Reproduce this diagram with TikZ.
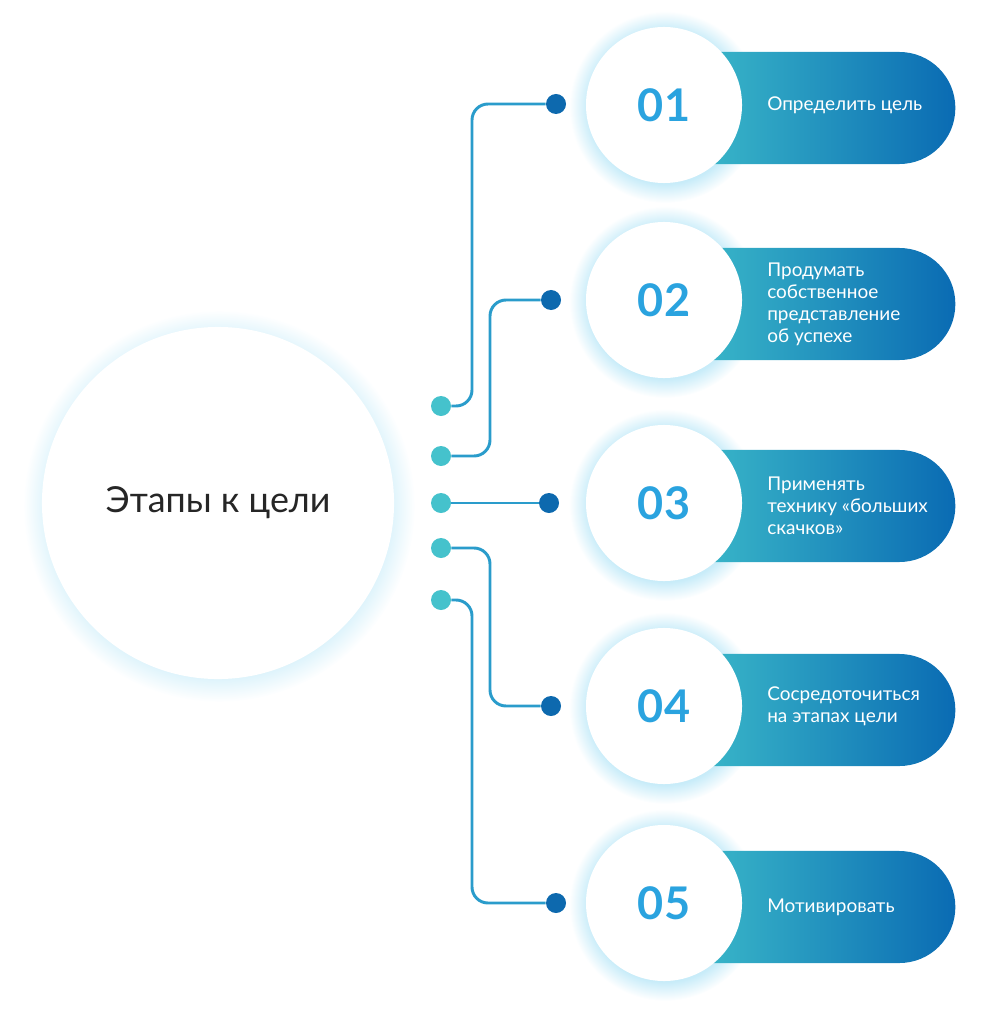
\documentclass[tikz,border=0pt]{standalone}
\usepackage{fontspec}
\setmainfont{Lato}
\usetikzlibrary{positioning, shapes.misc}
\definecolor{tealc}{HTML}{3BB9C9}
\definecolor{bluec}{HTML}{0A6BB3}
\definecolor{numc}{HTML}{2AA3DF}
\definecolor{linec}{HTML}{2A9CCB}
\definecolor{ldot}{HTML}{45C2CC}
\definecolor{rdot}{HTML}{0D69AE}
\definecolor{glowc}{HTML}{C8ECF9}
\pgfdeclareradialshading{glow}{\pgfpoint{0cm}{0cm}}{color(0bp)=(glowc); color(20bp)=(glowc); color(25bp)=(white); color(50bp)=(white)}
\tikzset{
	x=0.025cm, y=-0.025cm, % one unit is one pixel of the reference, y runs down
	goal/.style={circle, fill=white, minimum size=8.8cm, font=\fontsize{25.5}{30}\selectfont, text=black!85}, % the big circle
	numcirc/.style={circle, fill=white, minimum size=3.9cm, font=\fontsize{32}{36}\selectfont\bfseries, text=numc}, % numbered circles
	pill/.style={rounded rectangle, rounded rectangle west arc=none, minimum width=6.75cm, minimum height=2.8cm, left color=tealc, right color=bluec}, % coloured bars
	steptext/.style={anchor=west, align=left, text=white, font=\fontsize{13.5}{15.6}\selectfont, inner sep=0pt}, % text on the bars
	dotl/.style={circle, fill=ldot, minimum size=0.5cm, inner sep=0pt}, % dots at the big circle
	dotr/.style={circle, fill=rdot, minimum size=0.5cm, inner sep=0pt}, % dots at the numbers
	link/.style={draw=linec, line width=2.1pt, rounded corners=0.4cm}, % connectors
}

\begin{document}
\begin{tikzpicture}
	\useasboundingbox (0,0) rectangle (996,1024);

	% glow behind the circles
	\shade[shading=glow] (219,506) circle (4.9cm);
	\foreach \y in {105,300,503,706,903}
		\shade[shading=glow] (665,\y+2) circle (2.4cm);

	% bars
	\node[pill] (p1) at (825,108) {};
	\node[pill] (p2) at (825,304) {};
	\node[pill] (p3) at (825,506) {};
	\node[pill] (p4) at (825,710) {};
	\node[pill] (p5) at (825,907) {};

	% circles
	\node[goal] (g) at (218,503) {Этапы к цели};
	\node[numcirc] (n1) at (664,105) {01};
	\node[numcirc] (n2) at (664,300) {02};
	\node[numcirc] (n3) at (664,503) {03};
	\node[numcirc] (n4) at (664,706) {04};
	\node[numcirc] (n5) at (664,903) {05};

	\node[steptext] (t1) at (767,105) {Определить цель};
	\node[steptext] (t2) at (767,304) {Продумать\\собственное\\представление\\об успехе};
	\node[steptext] (t3) at (767,506) {Применять\\технику «больших\\скачков»};
	\node[steptext] (t4) at (767,706) {Сосредоточиться\\на этапах цели};
	\node[steptext] (t5) at (767,907) {Мотивировать};

	% dots
	\node[dotl] (l1) at (441,406) {};
	\node[dotl] (l2) at (441,456) {};
	\node[dotl] (l3) at (441,503) {};
	\node[dotl] (l4) at (441,548) {};
	\node[dotl] (l5) at (441,600) {};
	\node[dotr] (r1) at (556,104) {};
	\node[dotr] (r2) at (551,300) {};
	\node[dotr] (r3) at (549,503) {};
	\node[dotr] (r4) at (551,706) {};
	\node[dotr] (r5) at (556,903) {};
	\coordinate (outer) at (472,0);
	\coordinate (inner) at (490,0);

	% connectors
	\draw[link] (l1) -- (l1 -| outer) |- (r1);
	\draw[link] (l2) -- (l2 -| inner) |- (r2);
	\draw[link] (l3) -- (r3);
	\draw[link] (l4) -- (l4 -| inner) |- (r4);
	\draw[link] (l5) -- (l5 -| outer) |- (r5);
\end{tikzpicture}
\end{document}
